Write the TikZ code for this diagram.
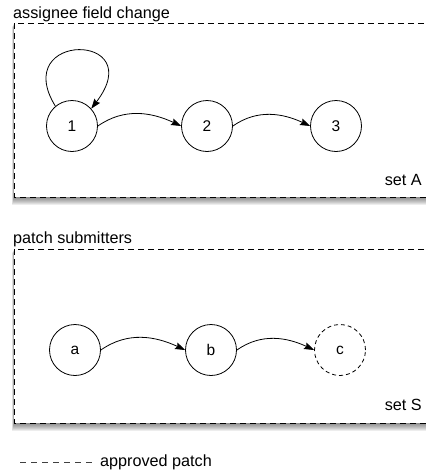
\documentclass[tikz,border=0pt]{standalone}
\usepackage{fontspec}
\setmainfont{Liberation Sans}
\usetikzlibrary{arrows.meta}

\tikzset{
  setbox/.style={draw=black, line width=0.9pt, dash pattern=on 6pt off 4pt, fill=white},
  boxshade/.style={fill=black, opacity=0.07, draw=none},
  state/.style={draw=black, line width=0.8pt, circle, minimum size=51pt, inner sep=0pt,
    font=\fontsize{15.5}{18}\selectfont},
  pending/.style={state, dash pattern=on 4pt off 3pt},
  flow/.style={-{Stealth[length=10pt,width=7pt,inset=1.5pt]}, line width=0.8pt},
  caption/.style={font=\fontsize{16.2}{19}\selectfont, inner sep=0pt},
}

\begin{document}
\begin{tikzpicture}[x=1pt,y=-1pt]
  \useasboundingbox (0,0) rectangle (426,472);
  \clip (0,0) rectangle (426,472);

  % soft shadows under the two sets
  \foreach \d in {0.5,1.5,...,7.5} {
    \fill[boxshade] (14-\d/4,23+\d/2) rectangle (445,197+\d);
    \fill[boxshade] (14-\d/4,249+\d/2) rectangle (445,423+\d);
  }

  % set A: assignee field change
  \draw[setbox] (14,23) rectangle (445,197);
  \node[caption, anchor=base west] (capA) at (13,18) {assignee field change};
  \node[caption, anchor=base east] (setA) at (422,185) {set A};
  \node[state] (n1) at (72,126) {1};
  \node[state] (n2) at (207,126) {2};
  \node[state] (n3) at (336,126) {3};
  \draw[flow] (n1.130) .. controls +(-46,-75) and +(59,-77) .. (n1.42);
  \draw[flow] (n1.east) to[out=35,in=155] (n2.west);
  \draw[flow] (n2.east) to[out=35,in=155] (n3.west);

  % set S: patch submitters
  \draw[setbox] (14,249) rectangle (445,423);
  \node[caption, anchor=base west] (capS) at (13,243) {patch submitters};
  \node[caption, anchor=base east] (setS) at (422,410) {set S};
  \node[state] (na) at (75,350) {a};
  \node[state] (nb) at (211,350) {b};
  \node[pending] (nc) at (340,350) {c};
  \draw[flow] (na.east) to[out=35,in=155] (nb.west);
  \draw[flow] (nb.east) to[out=35,in=155] (nc.west);

  % legend
  \coordinate (legL) at (20,462);
  \coordinate (legR) at (93,462);
  \node[caption, anchor=base west] (legend) at (100,466) {approved patch};
  \draw[line width=0.8pt, draw=black!75, dash pattern=on 6pt off 5pt] (legL) -- (legR);
\end{tikzpicture}
\end{document}
